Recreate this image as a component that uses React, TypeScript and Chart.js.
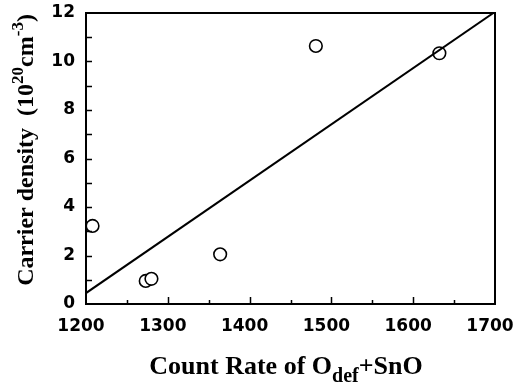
import React, { useEffect, useRef } from "react";
import { Chart, registerables } from "chart.js";

Chart.register(...registerables);

const countRate = [1208, 1273, 1280, 1364, 1481, 1632];
const carrierDensity = [3.22, 0.95, 1.04, 2.05, 10.64, 10.34];
const fitCountRate = [1200, 1698];
const fitDensity = [0.45, 12];
const xMinorTicks = [1250, 1300, 1350, 1400, 1450, 1500, 1550, 1600, 1650];
const yMinorTicks = [1, 2, 3, 4, 5, 6, 7, 8, 9, 10, 11];

const xTitleParts = [
  { text: "Count Rate of O", mode: "n" },
  { text: "def", mode: "sub" },
  { text: "+SnO", mode: "n" },
];
const yTitleParts = [
  { text: "Carrier density  (10", mode: "n" },
  { text: "20", mode: "sup" },
  { text: "cm", mode: "n" },
  { text: "-3", mode: "sup" },
  { text: ")", mode: "n" },
];

const SERIF = '"Liberation Serif", "Times New Roman", serif';
const SANS = '"DejaVu Sans", Arial, sans-serif';

function drawRich(ctx: CanvasRenderingContext2D, parts: any[], size: number, smallSize: number) {
  const big = `bold ${size}px ${SERIF}`;
  const small = `bold ${smallSize}px ${SERIF}`;
  let total = 0;
  for (const p of parts) {
    ctx.font = p.mode === "n" ? big : small;
    total += ctx.measureText(p.text).width;
  }
  let x = -total / 2;
  ctx.textBaseline = "alphabetic";
  ctx.textAlign = "left";
  for (const p of parts) {
    ctx.font = p.mode === "n" ? big : small;
    const dy = p.mode === "sub" ? size * 0.3 : p.mode === "sup" ? -size * 0.42 : 0;
    ctx.fillText(p.text, x, dy);
    x += ctx.measureText(p.text).width;
  }
}

const framePlugin = {
  id: "frameAndTitles",
  afterDraw(chart: any) {
    const { ctx, chartArea } = chart;
    const xs = chart.scales.x;
    const ys = chart.scales.y;
    ctx.save();
    ctx.strokeStyle = "#000";
    ctx.lineWidth = 2;
    ctx.strokeRect(chartArea.left, chartArea.top, chartArea.right - chartArea.left, chartArea.bottom - chartArea.top);
    ctx.lineWidth = 1.5;
    ctx.beginPath();
    for (const v of xMinorTicks) {
      const px = Math.round(xs.getPixelForValue(v)) + 0.5;
      const len = v % 100 === 0 ? 7 : 4;
      ctx.moveTo(px, chartArea.bottom);
      ctx.lineTo(px, chartArea.bottom - len);
    }
    for (const v of yMinorTicks) {
      const py = Math.round(ys.getPixelForValue(v)) + 0.5;
      ctx.moveTo(chartArea.left, py);
      ctx.lineTo(chartArea.left + 6, py);
    }
    ctx.stroke();
    ctx.fillStyle = "#000";
    ctx.save();
    ctx.translate(286, 374);
    drawRich(ctx, xTitleParts, 26, 20);
    ctx.restore();
    ctx.save();
    ctx.translate(33, 150);
    ctx.rotate(-Math.PI / 2);
    drawRich(ctx, yTitleParts, 24, 17);
    ctx.restore();
    ctx.restore();
  },
};

export default function App() {
  const ref = useRef<HTMLCanvasElement | null>(null);
  useEffect(() => {
    document.body.style.margin = "0";
    const chart = new Chart(ref.current as HTMLCanvasElement, {
      type: "scatter",
      data: {
        datasets: [
          {
            type: "line",
            data: fitCountRate.map((x, i) => ({ x, y: fitDensity[i] })),
            borderColor: "#000",
            borderWidth: 2,
            pointRadius: 0,
            fill: false,
          } as any,
          {
            type: "scatter",
            data: countRate.map((x, i) => ({ x, y: carrierDensity[i] })),
            borderColor: "#000",
            backgroundColor: "rgba(255,255,255,1)",
            borderWidth: 1.6,
            pointRadius: 6.3,
            pointStyle: "circle",
          },
        ],
      },
      options: {
        animation: false,
        responsive: true,
        maintainAspectRatio: false,
        layout: { padding: { left: 0, top: 13, right: 19, bottom: 0 } },
        plugins: { legend: { display: false }, tooltip: { enabled: false } },
        scales: {
          x: {
            type: "linear",
            min: 1200,
            max: 1700,
            grid: { display: false, drawTicks: false },
            border: { display: false },
            ticks: {
              stepSize: 100,
              padding: 12,
              labelOffset: -5,
              color: "#000",
              maxRotation: 0,
              font: { family: SANS, weight: "bold", size: 17 },
              callback: (v: any) => String(v),
            },
            afterFit: (s: any) => {
              s.height = 82;
              s.paddingLeft = 0;
              s.paddingRight = 0;
            },
          },
          y: {
            type: "linear",
            min: 0,
            max: 12,
            grid: { display: false, drawTicks: false },
            border: { display: false },
            ticks: {
              stepSize: 2,
              padding: 11,
              color: "#000",
              font: { family: SANS, weight: "bold", size: 17 },
              callback: (v: any) => String(v),
            },
            afterFit: (s: any) => {
              s.width = 86;
              s.paddingTop = 0;
              s.paddingBottom = 0;
            },
          },
        },
      },
      plugins: [framePlugin],
    } as any);
    return () => chart.destroy();
  }, []);
  return (
    <div style={{ position: "absolute", left: 0, top: 0, width: 514, height: 386, background: "#fff" }}>
      <canvas ref={ref} />
    </div>
  );
}
